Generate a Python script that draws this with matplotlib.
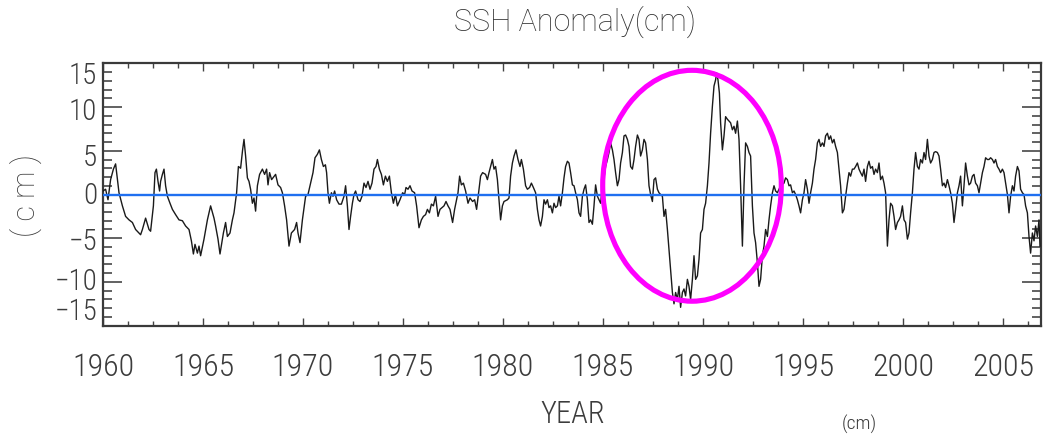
import matplotlib
matplotlib.use("Agg")
import matplotlib.pyplot as plt
import numpy as np
from matplotlib import font_manager
from matplotlib.patches import Ellipse
from matplotlib.ticker import MultipleLocator

# ---------------- data (year, SSH anomaly in cm) ----------------
seg_1960s = [(1960.00,0.4),(1960.13,0.6),(1960.25,-0.6),(1960.38,1.7),(1960.52,2.9),(1960.63,3.5),(1960.80,0.2),(1960.97,-1.3),
 (1961.13,-2.5),(1961.30,-2.9),(1961.47,-3.2),(1961.63,-4.0),(1961.80,-4.4),(1961.88,-4.6),(1961.97,-4.0),(1962.13,-2.7),
 (1962.30,-4.0),(1962.38,-4.2),(1962.52,-1.3),(1962.60,2.5),(1962.67,2.9),(1962.75,1.5),(1962.83,0.4),(1962.88,1.5),
 (1962.97,2.3),(1963.05,2.9),(1963.13,1.0),(1963.22,-0.2),(1963.35,-1.0),(1963.47,-1.7),(1963.63,-2.3),(1963.80,-2.9),
 (1963.97,-3.0),(1964.13,-3.6),(1964.30,-4.0),(1964.42,-5.3),(1964.52,-6.8),(1964.60,-5.7),(1964.72,-6.7),(1964.80,-5.9),
 (1964.88,-7.0),(1965.05,-5.1),(1965.22,-2.9),(1965.38,-1.3),(1965.55,-2.7),(1965.63,-3.6),(1965.75,-5.1),(1965.85,-6.8),
 (1966.02,-4.4),(1966.13,-3.2),(1966.22,-4.8),(1966.35,-4.4),(1966.47,-2.9),(1966.55,-2.1),(1966.68,0.2),(1966.77,3.2),
 (1966.88,3.0),(1966.98,5.1),(1967.05,6.3),(1967.13,4.4),(1967.22,1.9),(1967.30,1.5),(1967.38,0.6),(1967.47,-1.0),
 (1967.55,-0.4),(1967.63,-1.9),(1967.72,1.0),(1967.83,2.3),(1967.97,2.9),(1968.08,2.3),(1968.18,2.9),(1968.25,1.1),
 (1968.33,2.5),(1968.43,1.7),(1968.63,2.3),(1968.75,1.1),(1968.88,0.8),(1968.97,0.2),(1969.08,-1.3),(1969.18,-2.9),
 (1969.30,-5.9),(1969.42,-4.4),(1969.58,-4.0),(1969.68,-3.2),(1969.75,-4.4),(1969.85,-5.5),(1969.97,-2.9)]

seg_1970s = [(1970.13,-0.2),(1970.25,0.0),(1970.38,1.3),(1970.50,2.5),(1970.60,4.2),(1970.72,4.6),(1970.82,5.1),(1970.92,4.0),
 (1971.02,3.2),(1971.12,3.4),(1971.18,2.5),(1971.25,0.2),(1971.32,-1.0),(1971.42,0.2),(1971.50,-0.2),(1971.58,0.4),
 (1971.68,-0.6),(1971.80,-1.1),(1971.92,-1.1),(1972.05,-0.2),(1972.13,1.0),(1972.22,-1.3),(1972.30,-4.0),(1972.38,-2.5),
 (1972.47,-1.0),(1972.55,0.0),(1972.63,0.4),(1972.75,-0.6),(1972.85,-0.8),(1972.95,-0.2),(1973.05,1.3),(1973.15,0.8),
 (1973.25,1.5),(1973.35,0.6),(1973.45,1.3),(1973.55,2.9),(1973.65,3.2),(1973.72,4.0),(1973.82,2.9),(1973.92,2.3),
 (1974.02,1.1),(1974.12,2.1),(1974.22,1.5),(1974.32,2.1),(1974.42,0.2),(1974.52,-1.0),(1974.62,0.0),(1974.72,-1.3),
 (1974.85,-0.6),(1974.98,0.2),(1975.08,0.0),(1975.15,0.8),(1975.25,0.6),(1975.35,1.0),(1975.45,0.4),(1975.58,0.2),
 (1975.68,-1.3),(1975.80,-3.8),(1975.92,-2.9),(1976.02,-2.5),(1976.13,-2.3),(1976.22,-1.7),(1976.32,-2.1),(1976.42,-1.1),
 (1976.52,-1.3),(1976.63,-0.2),(1976.75,-2.5),(1976.85,-1.7),(1976.95,-1.5),(1977.05,-1.3),(1977.15,-0.8),(1977.25,-1.3),
 (1977.35,-1.7),(1977.48,-3.2),(1977.58,-1.7),(1977.68,-0.6),(1977.75,0.2),(1977.83,2.1),(1977.92,1.1),(1978.02,1.3),
 (1978.13,0.4),(1978.25,-1.0),(1978.35,-0.4),(1978.48,-0.8),(1978.58,-0.6),(1978.68,-1.7),(1978.78,0.2),(1978.88,2.1),
 (1978.98,2.5)]

seg_1980s = [(1979.13,2.3),(1979.22,1.7),(1979.30,2.5),(1979.38,3.2),(1979.47,4.0),(1979.55,2.9),(1979.63,3.2),(1979.72,1.7),
 (1979.80,-0.6),(1979.88,-2.9),(1979.97,-1.3),(1980.05,-0.8),(1980.22,-0.6),(1980.30,-0.4),(1980.38,2.1),(1980.47,3.6),
 (1980.55,4.4),(1980.65,5.1),(1980.75,4.0),(1980.85,3.2),(1980.92,4.0),(1981.02,2.9),(1981.13,1.0),(1981.22,0.6),
 (1981.33,0.8),(1981.42,1.3),(1981.52,0.8),(1981.63,0.2),(1981.72,-1.7),(1981.80,-2.9),(1981.88,-3.6),(1981.97,-2.5),
 (1982.05,-0.6),(1982.13,-1.1),(1982.22,-0.6),(1982.30,-1.5),(1982.38,-1.3),(1982.47,-2.1),(1982.55,-1.0),(1982.63,-1.5),
 (1982.72,-1.3),(1982.80,-0.2),(1982.88,-1.3),(1982.97,0.2),(1983.05,1.9),(1983.13,3.2),(1983.22,3.8),(1983.30,3.6),
 (1983.38,2.5),(1983.47,1.1),(1983.55,1.0),(1983.63,0.2),(1983.72,-0.6),(1983.80,-2.1),(1983.88,-2.5),(1983.97,-0.2),
 (1984.05,0.6),(1984.13,1.1),(1984.22,-0.6),(1984.30,-3.2),(1984.38,-2.9),(1984.47,-3.4),(1984.55,-1.3),(1984.63,1.1),
 (1984.72,-0.2),(1984.80,-0.6),(1984.88,-1.0),(1984.97,1.0),(1985.05,1.9),(1985.13,3.2),(1985.22,4.0),(1985.30,4.8),
 (1985.38,5.9),(1985.47,5.1),(1985.55,4.0),(1985.63,2.5),(1985.72,1.0),(1985.80,1.7),(1985.88,3.6),(1985.97,4.8),
 (1986.05,6.7),(1986.13,6.8),(1986.22,6.3),(1986.30,5.5),(1986.38,3.2),(1986.47,2.9),(1986.55,4.0),(1986.63,5.5),
 (1986.72,6.8),(1986.80,6.3),(1986.88,4.4),(1986.97,5.1),(1987.05,6.3),(1987.13,5.9),(1987.22,4.0),(1987.30,1.0),
 (1987.38,0.0),(1987.47,-0.8),(1987.55,1.7),(1987.63,1.9),(1987.72,0.6),(1987.80,0.2),(1987.88,0.0),(1987.97,-0.2),
 (1988.05,-2.5),(1988.13,-1.7),(1988.22,-4.0),(1988.30,-6.3),(1988.38,-8.6),(1988.47,-11.2),(1988.55,-12.5)]

seg_1990s = [(1988.63,-11.2),(1988.72,-12.0),(1988.80,-10.5),(1988.88,-12.9),(1988.97,-11.2),(1989.05,-10.8),(1989.13,-11.6),
 (1989.22,-9.7),(1989.30,-10.5),(1989.38,-12.0),(1989.47,-9.7),(1989.55,-7.0),(1989.63,-9.7),(1989.72,-9.3),(1989.80,-7.4),
 (1989.88,-4.4),(1989.97,-4.0),(1990.05,-1.7),(1990.13,-1.0),(1990.22,1.0),(1990.30,3.6),(1990.38,7.0),(1990.47,10.1),
 (1990.55,12.4),(1990.63,13.1),(1990.68,13.9),(1990.75,13.1),(1990.82,11.6),(1990.88,8.2),(1990.97,5.1),(1991.05,6.7),
 (1991.13,8.9),(1991.22,8.6),(1991.30,8.4),(1991.38,8.2),(1991.47,7.4),(1991.55,7.8),(1991.63,7.0),(1991.72,8.4),
 (1991.80,6.3),(1991.88,1.0),(1991.97,-5.9),(1992.05,1.0),(1992.13,5.9),(1992.22,5.5),(1992.30,4.8),(1992.38,4.4),
 (1992.47,-1.3),(1992.55,-4.4),(1992.63,-5.5),(1992.72,-7.8),(1992.80,-10.5),(1992.88,-9.7),(1992.97,-7.0),(1993.05,-5.9),
 (1993.13,-4.0),(1993.22,-4.8),(1993.30,-2.9),(1993.38,-1.3),(1993.47,0.2),(1993.55,1.0),(1993.63,0.4),(1993.72,0.2),
 (1993.80,0.6),(1993.88,1.0),(1994.05,1.3),(1994.13,1.9),(1994.22,1.7),(1994.30,1.0),(1994.38,1.1),(1994.47,0.2),
 (1994.55,0.4),(1994.63,0.0),(1994.72,-0.6),(1994.80,-1.3),(1994.88,-2.1),(1994.97,-0.6),(1995.05,0.2),(1995.13,1.7),
 (1995.22,0.6),(1995.30,-1.0),(1995.38,0.2),(1995.47,1.3),(1995.55,2.9),(1995.63,4.0),(1995.72,5.9),(1995.80,6.3),
 (1995.88,5.5),(1995.97,5.9),(1996.05,5.5),(1996.13,6.7),(1996.22,7.0),(1996.30,6.3),(1996.38,6.7),(1996.47,5.9),
 (1996.55,6.3),(1996.63,5.5),(1996.72,4.8),(1996.80,2.9),(1996.88,1.0),(1996.97,-2.1),(1997.05,-1.7),(1997.13,-0.2),
 (1997.22,1.3),(1997.30,2.5),(1997.38,2.1),(1997.47,2.9),(1997.55,2.9),(1997.63,3.2),(1997.72,3.6),(1997.80,2.9),
 (1997.88,2.5),(1997.97,2.1)]

seg_2000s = [(1998.05,2.9),(1998.13,1.5),(1998.22,3.2),(1998.30,3.8),(1998.38,3.0),(1998.47,3.2),(1998.55,2.3),(1998.63,2.9),
 (1998.72,2.5),(1998.80,3.6),(1998.88,1.7),(1998.97,2.1),(1999.05,1.3),(1999.13,0.2),(1999.22,-5.9),(1999.30,-2.9),
 (1999.38,-1.0),(1999.47,-1.3),(1999.55,-2.5),(1999.63,-4.0),(1999.72,-3.2),(1999.80,-2.9),(1999.88,-2.5),(1999.97,-1.3),
 (2000.05,-2.9),(2000.13,-3.2),(2000.22,-5.1),(2000.30,-4.4),(2000.38,-2.1),(2000.47,0.2),(2000.55,2.9),(2000.63,4.8),
 (2000.72,3.2),(2000.80,2.9),(2000.88,4.0),(2000.97,3.6),(2001.05,4.8),(2001.13,4.0),(2001.22,6.3),(2001.30,4.4),
 (2001.38,3.6),(2001.47,4.0),(2001.55,4.8),(2001.63,4.9),(2001.72,4.8),(2001.80,4.4),(2001.88,2.9),(2001.97,1.0),
 (2002.05,1.3),(2002.13,0.8),(2002.22,1.7),(2002.30,1.0),(2002.38,0.2),(2002.47,-1.0),(2002.55,-3.2),(2002.63,-1.7),
 (2002.72,0.2),(2002.80,1.0),(2002.88,2.1),(2002.97,-1.3),(2003.05,1.0),(2003.13,3.6),(2003.22,2.1),(2003.30,1.1),
 (2003.38,1.3),(2003.47,2.1),(2003.55,2.3),(2003.63,1.3),(2003.72,1.0),(2003.80,0.2),(2003.88,1.3),(2003.97,2.5),
 (2004.05,3.2),(2004.13,4.2),(2004.22,4.0),(2004.30,4.0),(2004.38,4.2),(2004.47,4.0),(2004.55,3.6),(2004.63,4.0),
 (2004.72,3.2),(2004.80,2.9),(2004.88,2.5),(2004.97,2.9),(2005.05,2.5),(2005.13,1.3),(2005.22,0.0),(2005.30,-2.1),
 (2005.38,-0.2),(2005.47,1.0),(2005.55,0.4),(2005.63,2.1),(2005.72,3.2),(2005.80,2.7),(2005.88,0.6),(2005.97,0.2),
 (2006.05,0.0),(2006.13,-1.3),(2006.22,-2.1),(2006.30,-4.8),(2006.38,-6.7),(2006.47,-4.4),(2006.55,-5.3),(2006.63,-3.6),
 (2006.72,-4.8),(2006.80,-2.9),(2006.85,-5.9)]

x_tick_years = [1960, 1965, 1970, 1975, 1980, 1985, 1990, 1995, 2000, 2005]
y_tick_labels = ["15", "10", "5", "0", "\u22125", "\u221210", "\u221215"]
title_text = "SSH Anomaly(cm)"
xlabel_text = "YEAR"
ylabel_text = "( c m )"
unit_text = "(cm)"
# highlighted region (ellipse): centre year, centre value, width in years, height in cm
highlight = dict(year=1989.45, value=1.0, width=8.93, height=26.4)

# ---------------- fonts ----------------
names = {f.name for f in font_manager.fontManager.ttflist}
def pick(cands, default="DejaVu Sans"):
    for c in cands:
        if c in names:
            return c
    return default

NARROW = pick(["Liberation Sans Narrow", "Roboto Condensed", "Open Sans Condensed", "Liberation Sans"])
NARROW_STRETCH = "normal"
if NARROW == "Liberation Sans":
    for f in font_manager.fontManager.ttflist:
        if f.stretch in ("condensed", "semi-condensed", "extra-condensed") and f.style == "normal":
            NARROW = f.name
            NARROW_STRETCH = f.stretch
            break
REGULAR = pick(["Roboto", "Liberation Sans", "DejaVu Sans"])
plt.rcParams["font.family"] = [NARROW, "DejaVu Sans"]
TXT = "#3c3c3c"

# ---------------- figure ----------------
W, H = 1055, 435
fig = plt.figure(figsize=(W / 100, H / 100), dpi=100)
ax_left, ax_right, ax_top, ax_bot = 103, 1041, 64.3, 326.7
ax = fig.add_axes([ax_left / W, 1 - ax_bot / H, (ax_right - ax_left) / W, (ax_bot - ax_top) / H])

pts = seg_1960s + seg_1970s + seg_1980s + seg_1990s + seg_2000s
years = np.array([p[0] for p in pts])
ssh = np.array([p[1] for p in pts])

ax.plot(years, ssh, color="#1a1a1a", lw=1.0, zorder=3)
ax.axhline(0, color="#1f6ff0", lw=1.7, zorder=4)

ax.add_patch(Ellipse((highlight["year"], highlight["value"]), highlight["width"], highlight["height"],
                     fill=False, ec="#ff00ff", lw=3.7, clip_on=False, zorder=6))

ax.set_xlim(1960, 2006.9)
ax.set_ylim(-15, 15)

for s in ax.spines.values():
    s.set_linewidth(1.6)
    s.set_color("#3a3a3a")

ax.xaxis.set_minor_locator(MultipleLocator(1.25))
ax.yaxis.set_major_locator(MultipleLocator(5))
ax.yaxis.set_minor_locator(MultipleLocator(1))
ax.set_xticks(x_tick_years)
ax.set_xticklabels([str(y) for y in x_tick_years])

ax.tick_params(axis="x", which="both", direction="in", top=True, bottom=True,
               color="#444444", width=1.0, labelsize=23, labelcolor=TXT, pad=19)
ax.tick_params(axis="x", which="major", length=6)
ax.tick_params(axis="x", which="minor", length=3.6)
ax.tick_params(axis="y", which="both", direction="in", left=True, right=True,
               labelleft=False, color="#555555", width=1.3)
ax.tick_params(axis="y", which="major", length=13.5)
ax.tick_params(axis="y", which="minor", length=6.5)
for lab in ax.get_xticklabels():
    lab.set_fontstretch(NARROW_STRETCH)
    lab.set_fontweight("light")

# y tick labels placed where the original draws them (pixel rows)
ylab_rows = [76.5, 112.5, 158, 196, 242.5, 282, 312.5]
for txt, row in zip(y_tick_labels, ylab_rows):
    fig.text(97 / W, 1 - row / H, txt, ha="right", va="center", fontsize=21, weight="light",
             color=TXT, family=[NARROW, "DejaVu Sans"], stretch=NARROW_STRETCH)

fig.text(575 / W, 1 - 31 / H, title_text, ha="center", va="baseline", fontsize=22, weight="light",
         color="#333333", family=[REGULAR, "DejaVu Sans"])
fig.text(572.5 / W, 1 - 414.5 / H, xlabel_text, ha="center", va="center", fontsize=22, weight="light",
         color=TXT, family=[NARROW, "DejaVu Sans"], stretch=NARROW_STRETCH)
fig.text(26 / W, 1 - 196 / H, ylabel_text, ha="center", va="center", rotation=90, fontsize=22, weight="light",
         color=TXT, family=[REGULAR, "DejaVu Sans"])
fig.text(859 / W, 1 - 415 / H, unit_text, ha="center", va="top", fontsize=14, weight="light",
         color=TXT, family=[NARROW, "DejaVu Sans"], stretch=NARROW_STRETCH)

fig.savefig("out.png", dpi=100)
